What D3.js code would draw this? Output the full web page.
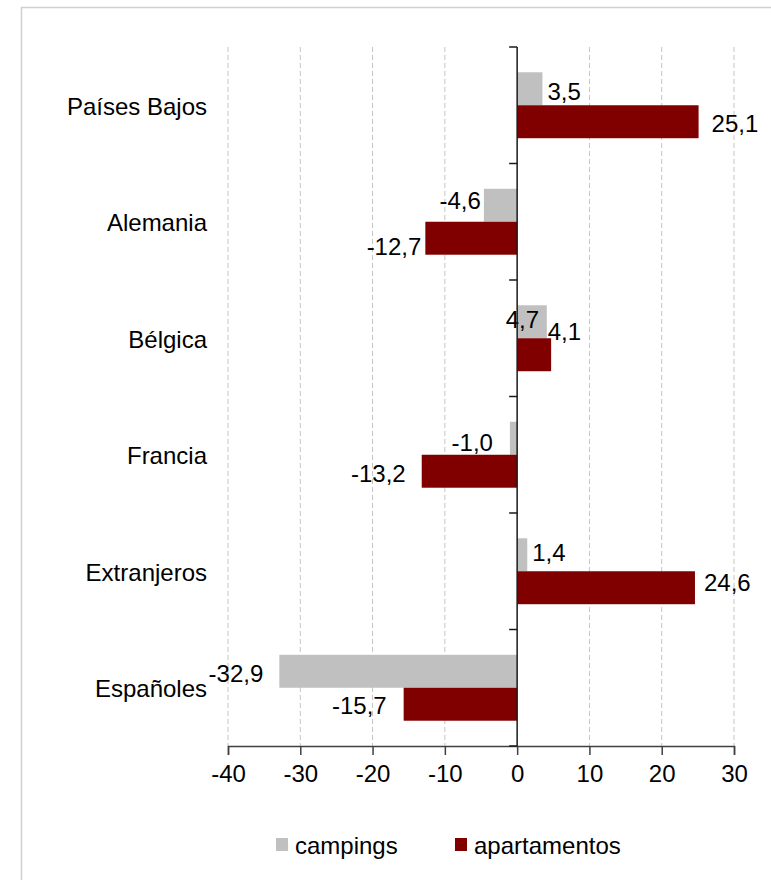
<!DOCTYPE html>
<html>
<head>
<meta charset="utf-8">
<script src="https://cdn.jsdelivr.net/npm/d3@7"></script>
<style>
  body { margin: 0; background: #fff; }
  svg text { font-family: "Liberation Sans", Arial, sans-serif; fill: #000; }
</style>
</head>
<body>
<svg width="771" height="880"></svg>
<script>
const categories = ["Países Bajos", "Alemania", "Bélgica", "Francia", "Extranjeros", "Españoles"];
const campings = [3.5, -4.6, 4.1, -1.0, 1.4, -32.9];
const apartamentos = [25.1, -12.7, 4.7, -13.2, 24.6, -15.7];
const seriesNames = ["campings", "apartamentos"];
const xTicks = [-40, -30, -20, -10, 0, 10, 20, 30];

const colors = { campings: "#c0c0c0", apartamentos: "#800000" };
const fmt = v => v.toFixed(1).replace(".", ",");

// label placement as in the original (gap from bar end, vertical shift)
const labelLayout = {
  "Países Bajos": { campings: { gap: 5, dy: 3 }, apartamentos: { gap: 13, dy: 2 } },
  "Alemania":     { campings: { gap: 3, dy: -5 }, apartamentos: { gap: 4, dy: 8 } },
  "Bélgica":      { campings: { gap: 1, dy: 10 }, apartamentos: { gap: -12, dy: -35, anchor: "end" } },
  "Francia":      { campings: { gap: 17, dy: 4 }, apartamentos: { gap: 16, dy: 2 } },
  "Extranjeros":  { campings: { gap: 5, dy: -2 }, apartamentos: { gap: 9, dy: -5 } },
  "Españoles":    { campings: { gap: 16, dy: 2 }, apartamentos: { gap: 17, dy: 1 } }
};

const svg = d3.select("svg");

// outer frame
svg.append("rect")
  .attr("x", 21.5).attr("y", 7.5)
  .attr("width", 800).attr("height", 900)
  .attr("fill", "none")
  .attr("stroke", "#d0d0d0")
  .attr("stroke-width", 1.5);

const x = d3.scaleLinear().domain([-40, 30]).range([228, 734]);
const y = d3.scaleBand().domain(categories).range([47, 746]);
const bw = y.bandwidth();
const y1 = d3.scaleBand().domain(seriesNames).range([bw * 0.217, bw * 0.783]);

const rows = categories.map((c, i) => ({ cat: c, campings: campings[i], apartamentos: apartamentos[i] }));

// gridlines
svg.append("g")
  .selectAll("line")
  .data(xTicks.filter(t => t !== 0))
  .join("line")
  .attr("x1", d => x(d)).attr("x2", d => x(d))
  .attr("y1", 47).attr("y2", 746)
  .attr("stroke", "#c4c4c4")
  .attr("stroke-dasharray", "5,3");

// bars
const groups = svg.append("g")
  .selectAll("g")
  .data(rows)
  .join("g")
  .attr("transform", d => `translate(0,${y(d.cat)})`);

groups.selectAll("rect")
  .data(d => seriesNames.map(s => ({ s, v: d[s] })))
  .join("rect")
  .attr("x", d => x(Math.min(0, d.v)))
  .attr("width", d => Math.abs(x(d.v) - x(0)))
  .attr("y", d => y1(d.s))
  .attr("height", y1.bandwidth())
  .attr("fill", d => colors[d.s]);

// value labels
groups.selectAll("text")
  .data(d => seriesNames.map(s => ({ s, v: d[s], lay: labelLayout[d.cat][s] })))
  .join("text")
  .attr("x", d => x(d.v) + (d.v >= 0 ? 1 : -1) * d.lay.gap)
  .attr("y", d => y1(d.s) + y1.bandwidth() / 2 + d.lay.dy)
  .attr("dominant-baseline", "central")
  .attr("text-anchor", d => d.lay.anchor || (d.v >= 0 ? "start" : "end"))
  .style("font-size", "24px")
  .text(d => fmt(d.v));

// x axis
const xAxis = svg.append("g")
  .attr("transform", "translate(0,746)")
  .call(d3.axisBottom(x).tickValues(xTicks).tickSize(9).tickPadding(10).tickFormat(d => String(d)));
xAxis.select(".domain").attr("stroke", "#404040").attr("stroke-width", 1.5);
xAxis.selectAll(".tick line").attr("stroke", "#404040").attr("stroke-width", 1.5);
xAxis.selectAll(".tick text")
  .style("font-size", "24px")
  .attr("fill", "#000");

// zero line with category ticks
const yAxis = svg.append("g")
  .attr("transform", `translate(${x(0)},0)`);
yAxis.append("line")
  .attr("y1", 47).attr("y2", 746)
  .attr("stroke", "#1a1a1a").attr("stroke-width", 1.5);
yAxis.selectAll("line.tk")
  .data(categories.map(c => y(c)).concat([746]))
  .join("line")
  .attr("class", "tk")
  .attr("x1", -8).attr("x2", 0)
  .attr("y1", d => d).attr("y2", d => d)
  .attr("stroke", "#1a1a1a").attr("stroke-width", 1.5);

// category labels
svg.append("g")
  .selectAll("text")
  .data(categories)
  .join("text")
  .attr("x", 207)
  .attr("y", d => y(d) + bw / 2 + 1)
  .attr("text-anchor", "end")
  .attr("dominant-baseline", "central")
  .style("font-size", "24px")
  .text(d => d);

// legend
const legend = svg.append("g").attr("transform", "translate(0,838)");
const legendX = [276, 455];
seriesNames.forEach((s, i) => {
  legend.append("rect")
    .attr("x", legendX[i]).attr("y", 0)
    .attr("width", 12).attr("height", 13)
    .attr("fill", colors[s]);
  legend.append("text")
    .attr("x", legendX[i] + 19).attr("y", 7)
    .attr("dominant-baseline", "central")
    .style("font-size", "24px")
    .text(s);
});
</script>
</body>
</html>
